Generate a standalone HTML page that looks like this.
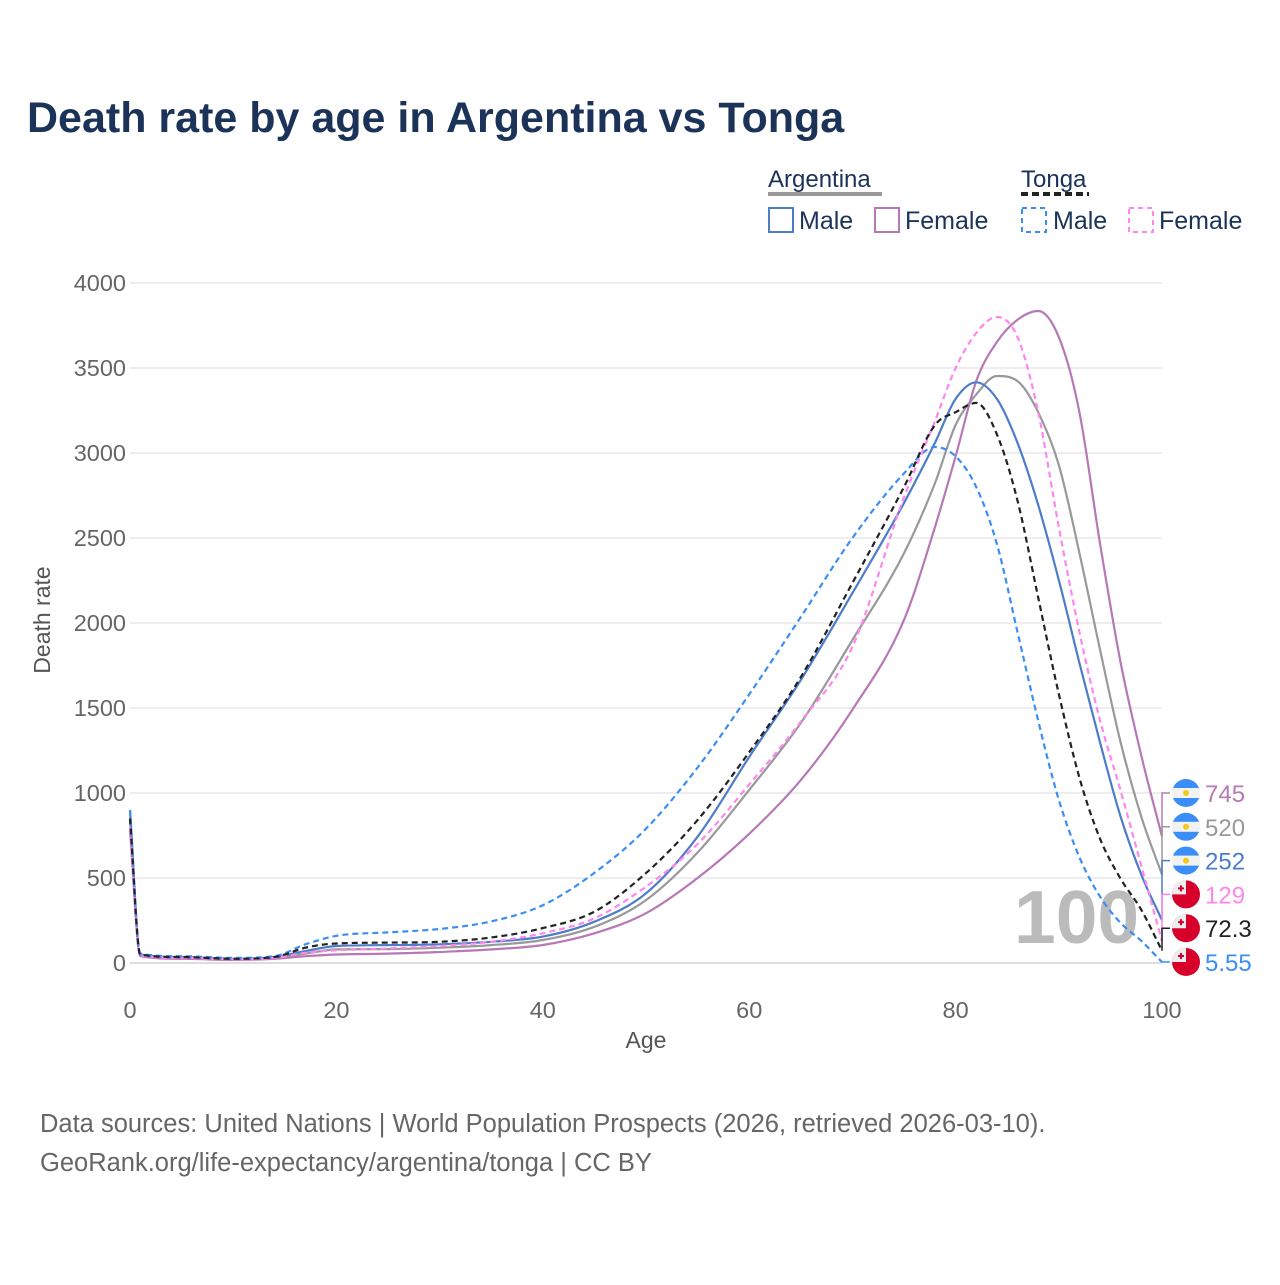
<!DOCTYPE html>
<html><head><meta charset="utf-8"><style>
html,body{margin:0;padding:0;background:#fff;}
body{width:1280px;height:1280px;overflow:hidden;font-family:"Liberation Sans",sans-serif;}
</style></head><body>
<svg id="chart" width="1280" height="1280" xmlns="http://www.w3.org/2000/svg" font-family="Liberation Sans, sans-serif">
<text x="27" y="132" font-size="43" font-weight="bold" fill="#1b3358">Death rate by age in Argentina vs Tonga</text>
<g>
<text x="768" y="187" font-size="24" fill="#1b3358">Argentina</text>
<rect x="768" y="192" width="114" height="4" fill="#999"/>
<text x="1021" y="187" font-size="24" fill="#1b3358">Tonga</text>
<line x1="1021" y1="194" x2="1089" y2="194" stroke="#222" stroke-width="4" stroke-dasharray="7,4"/>
<g><rect x="769" y="208" width="24" height="24" fill="none" stroke="#4d7cc9" stroke-width="2"/><text x="799" y="229" font-size="25" fill="#1b3358">Male</text></g>
<g><rect x="875" y="208" width="24" height="24" fill="none" stroke="#b678b6" stroke-width="2"/><text x="905" y="229" font-size="25" fill="#1b3358">Female</text></g>
<g><rect x="1022" y="208" width="24" height="24" fill="none" stroke="#3a8ef5" stroke-width="2" stroke-dasharray="5,4"/><text x="1053" y="229" font-size="25" fill="#1b3358">Male</text></g>
<g><rect x="1129" y="208" width="24" height="24" fill="none" stroke="#ff85ef" stroke-width="2" stroke-dasharray="5,4"/><text x="1159" y="229" font-size="25" fill="#1b3358">Female</text></g>
</g>
<g id="grid"></g>
<g id="ticks"></g>
<text x="1014" y="943" font-size="75" font-weight="bold" fill="#bbb">100</text>
<g id="series"></g>
<g id="endlabels"></g>
<text x="50" y="620" font-size="23" fill="#555" transform="rotate(-90 50 620)" text-anchor="middle">Death rate</text>
<text x="646" y="1048" font-size="23" fill="#555" text-anchor="middle">Age</text>
<text x="40" y="1132" font-size="25.5" fill="#666">Data sources: United Nations | World Population Prospects (2026, retrieved 2026-03-10).</text>
<text x="40" y="1171" font-size="25.5" fill="#666">GeoRank.org/life-expectancy/argentina/tonga | CC BY</text>
</svg>
<script>
const yTicks=[0,500,1000,1500,2000,2500,3000,3500,4000];
const xTicks=[0,20,40,60,80,100];
const ages=[0,1,5,10,14,17,20,25,30,35,40,45,50,55,60,65,70,75,78,80,82,84,86,88,90,92,94,96,98,100];
const argMale=[900,50,35,25,35,70,100,105,110,125,155,243,410,743,1212,1665,2176,2706,3060,3318,3416,3318,3060,2695,2253,1765,1296,859,518,252];
const argFemale=[780,40,25,18,25,40,50,55,65,80,106,175,293,500,760,1076,1490,2018,2565,2980,3423,3653,3784,3835,3682,3240,2465,1765,1218,745];
const argTotal=[840,45,30,22,30,55,80,82,90,105,135,213,370,650,1018,1412,1900,2410,2823,3165,3344,3453,3423,3240,2930,2412,1841,1296,859,520];
const tonMale=[900,55,40,30,40,110,160,180,200,245,340,530,790,1150,1580,2035,2500,2880,3035,2980,2800,2465,1947,1426,960,622,390,235,130,5.55];
const tonFemale=[800,45,30,22,30,60,75,85,100,125,175,263,449,700,1050,1420,1860,2740,3188,3500,3706,3800,3682,3240,2565,1947,1426,1012,570,129];
const tonTotal=[850,50,35,25,35,90,115,120,125,150,205,302,529,841,1240,1682,2235,2800,3165,3240,3295,3110,2720,2150,1583,1090,730,495,312,72.3];
const endValues=["745","520","252","129","72.3","5.55"];

const NS="http://www.w3.org/2000/svg";
const X=a=>130+a*(1162-130)/100;
const Y=v=>963-v*(963-283)/4000;
function mk(t,attrs,parent){const e=document.createElementNS(NS,t);for(const k in attrs)e.setAttribute(k,attrs[k]);parent.appendChild(e);return e;}
function monoPath(xs,ys){
 const n=xs.length,d=[],m=[];
 for(let i=0;i<n-1;i++)d.push((ys[i+1]-ys[i])/(xs[i+1]-xs[i]));
 m[0]=d[0];m[n-1]=d[n-2];
 for(let i=1;i<n-1;i++){m[i]=(d[i-1]*d[i]<=0)?0:(d[i-1]+d[i])/2;}
 for(let i=0;i<n-1;i++){if(d[i]===0){m[i]=0;m[i+1]=0;continue;}const a=m[i]/d[i],b=m[i+1]/d[i],s=a*a+b*b;if(s>9){const t=3/Math.sqrt(s);m[i]=t*a*d[i];m[i+1]=t*b*d[i];}}
 let p='M'+xs[0].toFixed(1)+','+ys[0].toFixed(1);
 for(let i=0;i<n-1;i++){const h=(xs[i+1]-xs[i])/3;p+=' C'+(xs[i]+h).toFixed(1)+','+(ys[i]+m[i]*h).toFixed(1)+' '+(xs[i+1]-h).toFixed(1)+','+(ys[i+1]-m[i+1]*h).toFixed(1)+' '+xs[i+1].toFixed(1)+','+ys[i+1].toFixed(1);}
 return p;
}
const grid=document.getElementById('grid'),ticks=document.getElementById('ticks');
yTicks.forEach(v=>{
 const l=mk('line',{x1:130,x2:1162,y1:Y(v),y2:Y(v),stroke:v===0?'#ddd':'#e8e8e8','stroke-width':v===0?2:1.5},grid);
 
 
 const t=mk('text',{x:126,y:Y(v)+8,'font-size':23.5,fill:'#666','text-anchor':'end'},ticks);
 t.textContent=v;
 
 
});
xTicks.forEach(v=>{
 const t=mk('text',{x:X(v),y:1018,'font-size':23.5,fill:'#666','text-anchor':'middle'},ticks);
 t.textContent=v;
 
 
});
const ser=document.getElementById('series');
const defs=[
 [argTotal,'#999',null,'argentina-total-line'],
 [argFemale,'#b678b6',null,'argentina-female-line'],
 [argMale,'#4d7cc9',null,'argentina-male-line'],
 [tonMale,'#3a8ef5','6,4','tonga-male-line'],
 [tonFemale,'#ff85ef','6,4','tonga-female-line'],
 [tonTotal,'#222','6,4','tonga-total-line']];
defs.forEach(d=>{
 const a={d:monoPath(ages.map(X),d[0].map(Y)),fill:'none',stroke:d[1],'stroke-width':2.2,'stroke-linejoin':'round'};
 if(d[2])a['stroke-dasharray']=d[2];
 const p=mk('path',a,ser);
 
 
});
const el=document.getElementById('endlabels');
const labs=[[argFemale,'#b678b6','arg'],[argTotal,'#999','arg'],[argMale,'#4d7cc9','arg'],[tonFemale,'#ff85ef','ton'],[tonTotal,'#222','ton'],[tonMale,'#3a8ef5','ton']];
labs.forEach((L,i)=>{
 const ly=793+i*33.8, ey=Y(L[0][L[0].length-1]);
 const g=mk('g',{},el);
 
 
 mk('polyline',{points:`1162,${ey} 1162,${ly} 1170,${ly}`,fill:'none',stroke:L[1],'stroke-width':1.5},g);
 if(L[2]==='arg'){
  mk('circle',{cx:1186,cy:ly,r:14,fill:'#3a8ef5'},g);
  mk('rect',{x:1172,y:ly-5,width:28,height:10,fill:'#f2f2f2'},g);
  mk('circle',{cx:1186,cy:ly,r:3,fill:'#f6c915'},g);
 }else{
  mk('circle',{cx:1186,cy:ly,r:14,fill:'#d7002a'},g);
  mk('path',{d:`M1186 ${ly-14} A14 14 0 0 0 1172 ${ly} L1186 ${ly} Z`,fill:'#eee'},g);
  mk('rect',{x:1178,y:ly-7,width:6,height:2,fill:'#d7002a'},g);
  mk('rect',{x:1180,y:ly-9,width:2,height:6,fill:'#d7002a'},g);
 }
 const t=mk('text',{x:1205,y:ly+9,'font-size':24,fill:L[1]},g);
 t.textContent=endValues[i];
});
</script>
</body></html>
